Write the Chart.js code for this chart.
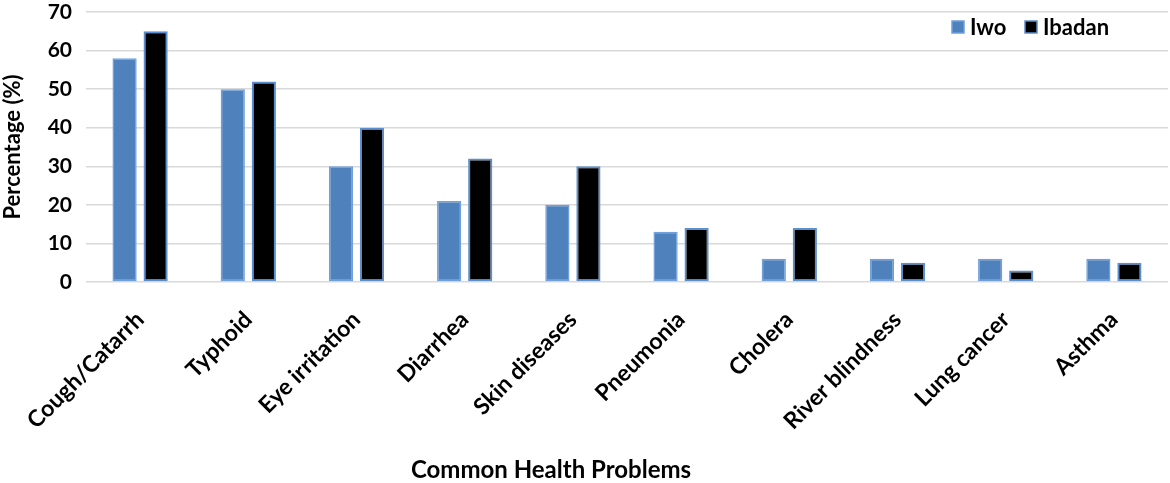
<!DOCTYPE html>
<html><head><meta charset="utf-8">
<script src="https://cdn.jsdelivr.net/npm/chart.js@4.4.1/dist/chart.umd.min.js"></script>
<style>html,body{margin:0;padding:0;background:#fff}#wrap{width:1170px;height:483px;position:relative}</style>
</head><body><div id="wrap"><canvas id="c"></canvas></div>
<script>
const categories = ["Cough/Catarrh","Typhoid","Eye irritation","Diarrhea","Skin diseases","Pneumonia","Cholera","River blindness","Lung cancer","Asthma"];
const iwo = [58,50,30,21,20,13,6,6,6,6];
const ibadan = [65,52,40,32,30,14,14,5,3,5];
const yTicks = [0,10,20,30,40,50,60,70];
const xTitle = 'Common Health Problems';
const yTitle = 'Percentage (%)';
const FONT = "Lato, 'Open Sans', sans-serif";

const extras = {
  id: 'extras',
  afterDraw(chart) {
    const ctx = chart.ctx;
    ctx.save();
    ctx.font = "bold 22px " + FONT;
    ctx.textBaseline = 'middle';
    ctx.textAlign = 'left';
    const items = chart.data.datasets;
    const y = 27;
    const starts = [952, 1025];
    items.forEach((ds, i) => {
      const x = starts[i];
      ctx.fillStyle = ds.backgroundColor;
      ctx.fillRect(x, y - 6, 12, 12);
      ctx.strokeStyle = ds.borderColor;
      ctx.lineWidth = 1.5;
      ctx.strokeRect(x, y - 6, 12, 12);
      ctx.fillStyle = '#000';
      ctx.fillText(ds.label, x + 18, y + 1);
    });
    ctx.font = "bold 24px " + FONT;
    ctx.textAlign = 'center';
    ctx.fillText(xTitle, 551, 470);
    ctx.restore();
  }
};

new Chart(document.getElementById('c'), {
  type: 'bar',
  data: {
    labels: categories,
    datasets: [
      {label: 'Iwo', data: iwo, backgroundColor: '#4F81BD', borderColor: '#6FA0DC', borderWidth: 1.5, borderSkipped: false},
      {label: 'Ibadan', data: ibadan, backgroundColor: '#000000', borderColor: '#5B8FD0', borderWidth: 2, borderSkipped: false}
    ]
  },
  plugins: [extras],
  options: {
    responsive: true, maintainAspectRatio: false, animation: false,
    layout: {padding: {top: 12, right: 2, left: 0, bottom: 0}},
    datasets: {bar: {categoryPercentage: 0.574, barPercentage: 0.78}},
    plugins: {
      tooltip: {enabled: false},
      legend: {display: false}
    },
    scales: {
      x: {
        grid: {display: false},
        border: {display: false},
        ticks: {color: '#000', font: {family: FONT, size: 23, weight: 'bold'}, maxRotation: 45, minRotation: 45, autoSkip: false, padding: 16},
        afterFit: s => { s.height = 201; s.paddingTop = 0; }
      },
      y: {
        min: 0, max: 70,
        afterBuildTicks: s => { s.ticks = yTicks.map(v => ({value: v})); },
        grid: {color: '#d9d9d9', lineWidth: 1.5, drawTicks: false},
        border: {display: false},
        ticks: {color: '#000', font: {family: FONT, size: 21, weight: 'bold'}, padding: 14},
        title: {display: true, text: yTitle, color: '#000', font: {family: FONT, size: 22, weight: 'bold'}, padding: {top: 0, bottom: 4}},
        afterFit: s => { s.width = 86; s.paddingTop = 0; s.paddingBottom = 0; }
      }
    }
  }
});
</script></body></html>
